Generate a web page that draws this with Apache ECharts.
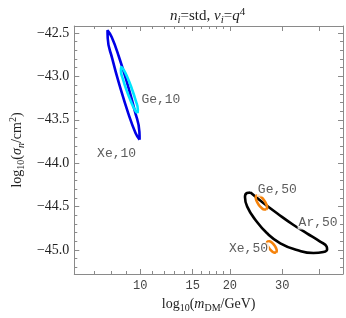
<!DOCTYPE html>
<html><head><meta charset="utf-8">
<script src="https://cdn.jsdelivr.net/npm/echarts@6/dist/echarts.min.js"></script>
<style>html,body{margin:0;padding:0;background:#fff}#c{width:346px;height:318px}</style>
</head><body><div id="c"></div>
<script>
// Axis ticks (x in GeV, shown on a log scale)
const xTickLabels = [10, 15, 20, 30];
const xMajorTicks = [10, 15, 20, 30, 40];
const xMinorTicks = [6, 7, 8, 9, 11, 12, 13, 14, 16, 17, 18, 19];
const yTickLabels = [-45.0, -44.5, -44.0, -43.5, -43.0, -42.5];
const yMinorTicks = [-45.2, -45.1, -44.9, -44.8, -44.7, -44.6, -44.4, -44.3, -44.2, -44.1,
  -43.9, -43.8, -43.7, -43.6, -43.4, -43.3, -43.2, -43.1, -42.9, -42.8, -42.7, -42.6];
const xRange = [6, 48];
const yRange = [-45.277, -42.419];

// Contours: mass (GeV) and log10(sigma)
const xe10Mass  = [9.946, 9.93, 9.593, 9.048, 8.474, 8.012, 7.759, 7.771, 8.049, 8.533, 9.111, 9.637];
const xe10Sigma = [-43.729, -43.638, -43.403, -43.086, -42.773, -42.546, -42.469, -42.560, -42.795, -43.112, -43.425, -43.652];
const ge10Mass  = [9.794, 9.809, 9.652, 9.374, 9.062, 8.786, 8.619, 8.606, 8.745, 9.006, 9.324, 9.608];
const ge10Sigma = [-43.422, -43.381, -43.280, -43.146, -43.015, -42.922, -42.891, -42.932, -43.033, -43.167, -43.298, -43.392];
const ar50Mass  = [23.46, 25.98, 28.81, 32.74, 36.29, 40.22, 42.28, 42.44, 41.25, 38.19, 33.61, 29.55, 26.67, 24.38, 22.87, 22.48, 22.83];
const ar50Sigma = [-44.338, -44.462, -44.577, -44.712, -44.808, -44.904, -44.960, -44.994, -45.023, -45.035, -45.000, -44.923, -44.808, -44.654, -44.501, -44.389, -44.343];
const ge50Mass  = [26.51, 26.67, 26.51, 26.10, 25.53, 24.98, 24.58, 24.43, 24.58, 24.97, 25.53, 26.09];
const ge50Sigma = [-44.532, -44.510, -44.472, -44.430, -44.393, -44.372, -44.373, -44.395, -44.433, -44.476, -44.513, -44.533];
const xe50Mass  = [28.61, 28.75, 28.59, 28.20, 27.66, 27.15, 26.78, 26.65, 26.80, 27.17, 27.70, 28.22];
const xe50Sigma = [-45.030, -45.010, -44.979, -44.945, -44.915, -44.900, -44.902, -44.921, -44.952, -44.986, -45.016, -45.031];

// Contour labels
const labelText  = ['Ge,10', 'Xe,10', 'Ge,50', 'Ar,50', 'Xe,50'];
const labelMass  = [11.727, 8.325, 28.88, 39.59, 23.10];
const labelSigma = [-43.272, -43.894, -44.309, -44.689, -44.988];

const L = Math.log10;
function loop(ms, ss) {
  const d = ms.map((m, i) => [L(m), ss[i]]);
  d.push(d[0]);
  return d;
}
const frameColor = '#8a8a8a';
function xAxisDef(pos, ticks, len, labels, line) {
  return {
    type: 'value', position: pos, min: L(xRange[0]), max: L(xRange[1]),
    splitLine: {show: false},
    axisLine: {show: line, onZero: false, lineStyle: {color: frameColor, width: 1}},
    axisTick: {show: true, inside: true, length: len, customValues: ticks.map(L), lineStyle: {color: frameColor}},
    axisLabel: labels ? {show: true, customValues: xTickLabels.map(L), margin: 6,
      formatter: v => String(Math.round(Math.pow(10, v))),
      fontFamily: 'Liberation Mono', fontSize: 12, color: '#444'} : {show: false}
  };
}
function yAxisDef(pos, ticks, len, labels, line) {
  return {
    type: 'value', position: pos, min: yRange[0], max: yRange[1],
    splitLine: {show: false},
    axisLine: {show: line, onZero: false, lineStyle: {color: frameColor, width: 1}},
    axisTick: {show: true, inside: true, length: len, customValues: ticks, lineStyle: {color: frameColor}},
    axisLabel: labels ? {show: true, customValues: yTickLabels, margin: 5,
      formatter: v => (v < 0 ? '\u2212' : '') + Math.abs(v).toFixed(1),
      fontFamily: 'Liberation Serif', fontSize: 14, color: '#222'} : {show: false}
  };
}
const xa0 = xAxisDef('bottom', xMajorTicks, 5, true, true);
xa0.name = '{r|log}{s|10}{r|(}{i|m}{s|DM}{r|/GeV)}';
xa0.nameLocation = 'middle';
xa0.nameGap = 20;
xa0.nameTextStyle = {rich: {
  r: {fontFamily: 'Liberation Serif', fontSize: 14, color: '#222'},
  i: {fontFamily: 'Liberation Serif', fontStyle: 'italic', fontSize: 14, color: '#222'},
  s: {fontFamily: 'Liberation Serif', fontSize: 10, color: '#222', padding: [8, 0, 0, 0]}
}};
const ya0 = yAxisDef('left', yTickLabels, 5, true, true);
ya0.name = '{r|log}{s|10}{r|(}{i|\u03c3}{si|n}{r|/cm}{p|2}{r|)}';
ya0.nameLocation = 'middle';
ya0.nameGap = 45;
ya0.nameRotate = 90;
ya0.nameTextStyle = {rich: {
  r: {fontFamily: 'Liberation Serif', fontSize: 14, color: '#222'},
  i: {fontFamily: 'Liberation Serif', fontStyle: 'italic', fontSize: 14, color: '#222'},
  s: {fontFamily: 'Liberation Serif', fontSize: 10, color: '#222', padding: [8, 0, 0, 0]},
  si: {fontFamily: 'Liberation Serif', fontStyle: 'italic', fontSize: 10, color: '#222', padding: [8, 0, 0, 0]},
  p: {fontFamily: 'Liberation Serif', fontSize: 10, color: '#222', padding: [0, 0, 8, 0]}
}};

const chart = echarts.init(document.getElementById('c'), null, {renderer: 'canvas'});
const lineSeries = (data, color) => ({
  type: 'line', data: data, showSymbol: false, smooth: 0.5, silent: true,
  lineStyle: {color: color, width: 2.6}, z: 3
});
chart.setOption({
  animation: false,
  backgroundColor: '#fff',
  title: {
    text: '{i|n}{s|i}{r|=std, }{i|\u03bd}{s|i}{r|=}{i|q}{p|4}',
    left: 165, top: 2,
    textStyle: {fontWeight: 'normal', rich: {
      r: {fontFamily: 'Liberation Serif', fontWeight: 'normal', fontSize: 15, color: '#222'},
      i: {fontFamily: 'Liberation Serif', fontWeight: 'normal', fontStyle: 'italic', fontSize: 15, color: '#222'},
      s: {fontFamily: 'Liberation Serif', fontWeight: 'normal', fontStyle: 'italic', fontSize: 11, color: '#222', padding: [8, 0, 0, 0]},
      p: {fontFamily: 'Liberation Serif', fontWeight: 'normal', fontSize: 11, color: '#222', padding: [0, 0, 8, 0]}
    }}
  },
  grid: {left: 73, right: 3, top: 26, bottom: 44, containLabel: false},
  xAxis: [
    xa0,
    xAxisDef('bottom', xMinorTicks, 3, false, false),
    xAxisDef('top', xMajorTicks, 5, false, true),
    xAxisDef('top', xMinorTicks, 3, false, false)
  ],
  yAxis: [
    ya0,
    yAxisDef('left', yMinorTicks, 3, false, false),
    yAxisDef('right', yTickLabels, 5, false, true),
    yAxisDef('right', yMinorTicks, 3, false, false)
  ],
  series: [
    lineSeries(loop(xe10Mass, xe10Sigma), '#0000e6'),
    lineSeries(loop(ge10Mass, ge10Sigma), '#00e5ff'),
    lineSeries(loop(ar50Mass, ar50Sigma), '#000000'),
    lineSeries(loop(ge50Mass, ge50Sigma), '#f5820a'),
    lineSeries(loop(xe50Mass, xe50Sigma), '#f5820a'),
    {
      type: 'scatter', symbolSize: 0, silent: true, z: 5,
      data: labelText.map((t, i) => ({value: [L(labelMass[i]), labelSigma[i]], name: t})),
      label: {show: true, position: 'inside', formatter: p => p.name,
        fontFamily: 'Liberation Mono', fontSize: 13, color: '#333',
        backgroundColor: '#fff', padding: [0, 1]}
    }
  ]
});
</script></body></html>
